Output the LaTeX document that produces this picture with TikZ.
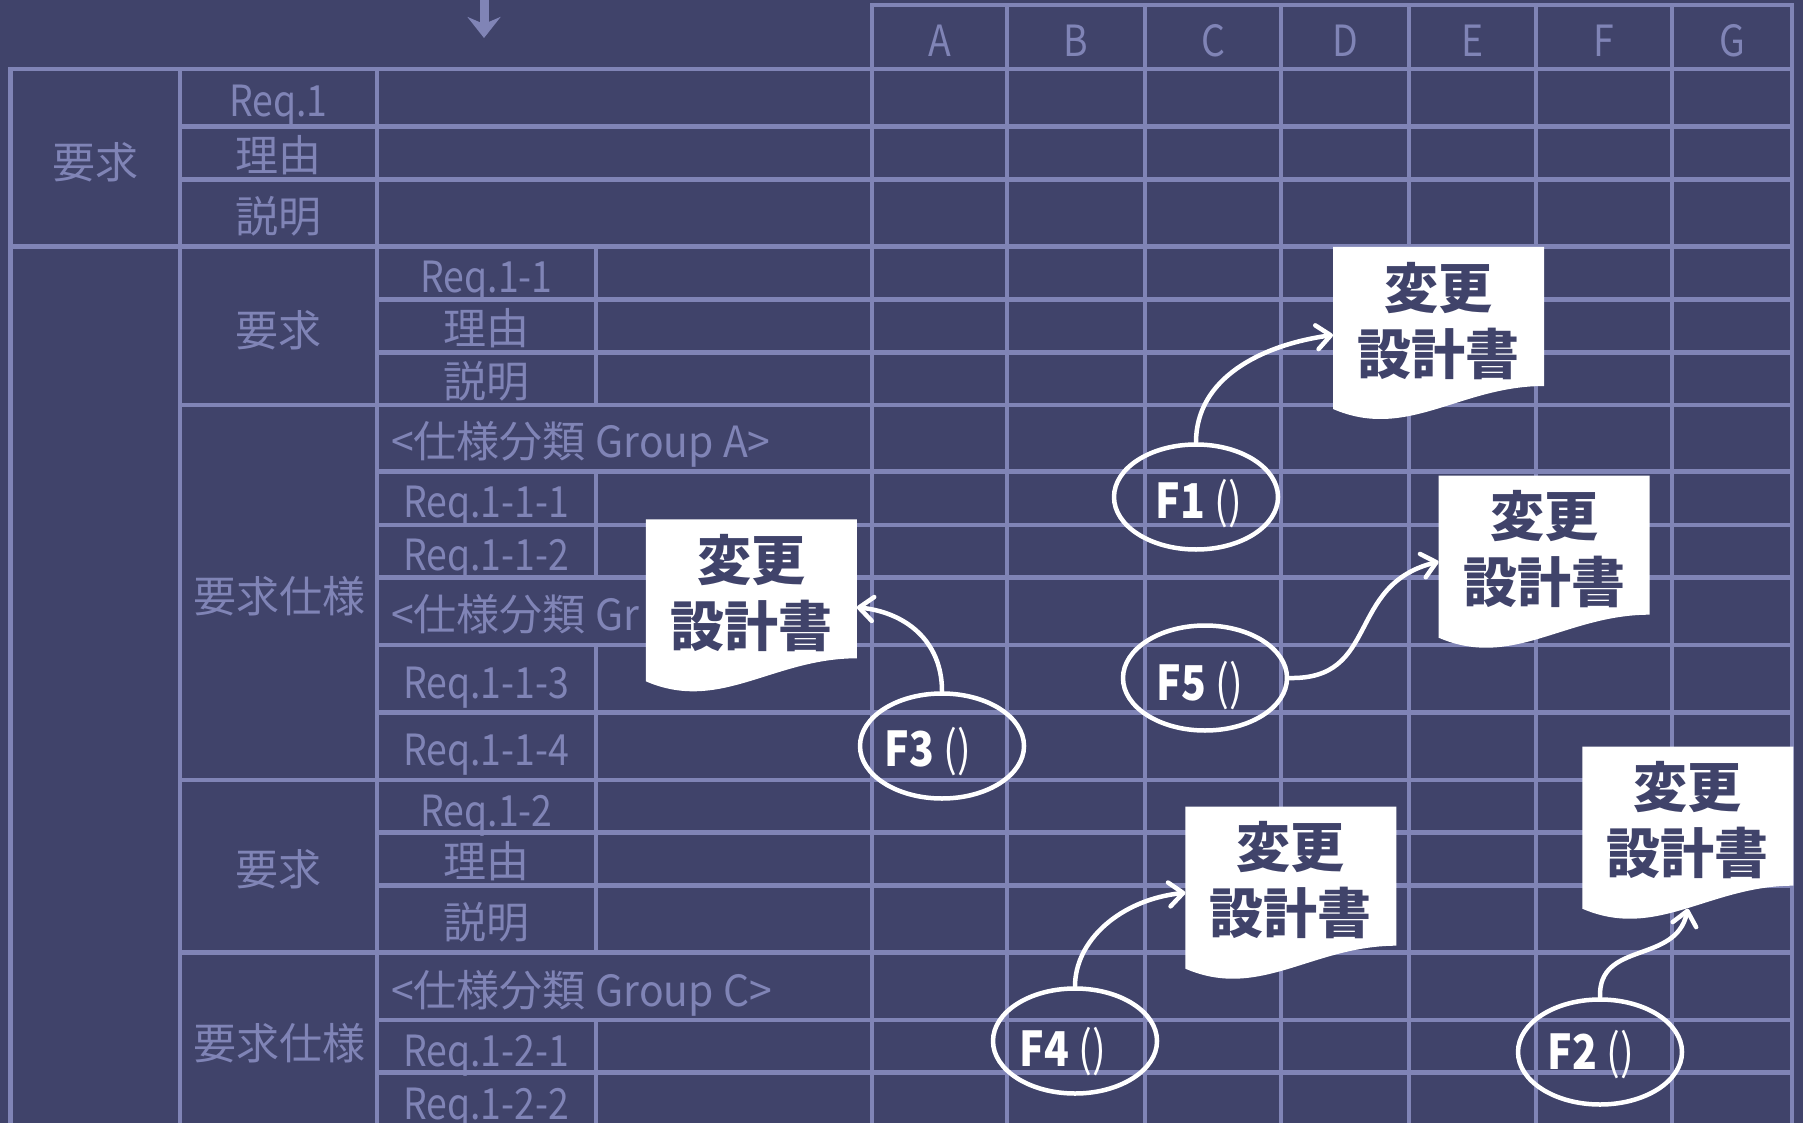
\documentclass[tikz,border=0pt]{standalone}
\usepackage{fontspec}
\setmainfont{Noto Sans CJK JP}
\newfontfamily\fcond[FakeStretch=0.85]{Noto Sans CJK JP}
\newfontfamily\tlat[FakeStretch=0.87]{Noto Sans CJK JP}
\newfontfamily\glat[FakeStretch=0.95]{Noto Sans CJK JP}
\newcommand\latn[1]{{\tlat #1}}
\newcommand\glatn[1]{{\glat #1}}
\usetikzlibrary{arrows.meta,shapes.geometric}
\definecolor{bgc}{RGB}{64,67,106}
\definecolor{linec}{RGB}{128,132,182}
\newcommand\docfill[1]{\fill[white] (#1.north west) -- (#1.north east) -- ([yshift=23pt]#1.south east) .. controls +(-84,0) and +(74,32) .. (#1.south west) -- cycle;}
\begin{document}
\begin{tikzpicture}[x=1pt,y=-1pt,
  gl/.style={draw=linec, line width=4.5pt, line cap=rect},
  tbl/.style={text=linec, font=\fontsize{43}{50}\selectfont, inner sep=0pt, anchor=base},
  docbox/.style={rectangle, minimum width=211pt, minimum height=162pt, inner sep=0pt, outer sep=0pt},
  doctxt/.style={text=bgc, font=\fontsize{54}{60}\selectfont\bfseries, inner sep=0pt, anchor=base},
  fell/.style={ellipse, draw=white, line width=4.5pt, minimum width=164pt, minimum height=105pt, inner sep=0pt},
  ftxt/.style={text=white, font=\fcond\fontsize{48}{52}\selectfont, inner sep=0pt, anchor=base},
  warr/.style={draw=white, line width=4.5pt, line cap=round, -{Straight Barb[length=14pt,width=24pt,round]}},
]
\fill[bgc] (0,0) rectangle (1803,1123);
\useasboundingbox (0,0) rectangle (1803,1123);
\begin{scope}
\clip (0,0) rectangle (1803,1123);
% horizontal lines
\draw[gl] (872,5) -- (1792,5);
\draw[gl] (10.5,69) -- (1792,69);
\foreach \y in {126.7,179.3,405,780,952.7} \draw[gl] (180,\y) -- (1792,\y);
\draw[gl] (10.5,246.7) -- (1792,246.7);
\foreach \y in {299.3,352.3,471.7,525,577.3,645,712.3,832.7,885.3,1020,1072.7} \draw[gl] (377,\y) -- (1792,\y);
% vertical lines
\foreach \x in {10.5,180,377} \draw[gl] (\x,69) -- (\x,1140);
\foreach \x in {872,1007,1145,1281,1409,1536,1672,1792} \draw[gl] (\x,5) -- (\x,1140);
\draw[gl] (596,246.7) -- (596,405);
\draw[gl] (596,471.7) -- (596,577.3);
\draw[gl] (596,645) -- (596,952.7);
\draw[gl] (596,1020) -- (596,1140);
% top arrow
\coordinate (ta) at (484,-10);
\coordinate (tb) at (484,38);
\draw[draw=linec, fill=linec, line width=9pt, -{Stealth[length=21pt,width=33pt,inset=7pt]}] (ta) -- (tb);
% headers
\node[tbl] (hA) at (939.5,57) {\latn{A}};
\node[tbl] (hB) at (1076,57) {\latn{B}};
\node[tbl] (hC) at (1213,57) {\latn{C}};
\node[tbl] (hD) at (1345,57) {\latn{D}};
\node[tbl] (hE) at (1472.5,57) {\latn{E}};
\node[tbl] (hF) at (1604,57) {\latn{F}};
\node[tbl] (hG) at (1732,57) {\latn{G}};
% table texts
\node[tbl] (t1) at (95,179) {要求};
\node[tbl] (t2) at (278.5,117) {\latn{Req.1}};
\node[tbl] (t3) at (278.5,172) {理由};
\node[tbl] (t4) at (278.5,233) {説明};
\node[tbl] (t5) at (278.5,346) {要求};
\node[tbl] (t6) at (279,612) {要求仕様};
\node[tbl] (t7) at (278.5,885) {要求};
\node[tbl] (t8) at (279,1059) {要求仕様};
\node[tbl] (t9) at (486.5,292) {\latn{Req.1-1}};
\node[tbl] (t10) at (486.5,344) {理由};
\node[tbl] (t11) at (486.5,397) {説明};
\node[tbl, anchor=base west] (t12) at (391,457) {\glatn{<}仕様分類 \glatn{Group A>}};
\node[tbl] (t13) at (486,517) {\latn{Req.1-1-1}};
\node[tbl] (t14) at (486,570) {\latn{Req.1-1-2}};
\node[tbl, anchor=base west] (t15) at (391,630) {\glatn{<}仕様分類 \glatn{Gr}};
\node[tbl] (t16) at (486,698) {\latn{Req.1-1-3}};
\node[tbl] (t17) at (486,765) {\latn{Req.1-1-4}};
\node[tbl] (t18) at (486.5,826) {\latn{Req.1-2}};
\node[tbl] (t19) at (486.5,877) {理由};
\node[tbl] (t20) at (486.5,938) {説明};
\node[tbl, anchor=base west] (t21) at (391,1006) {\glatn{<}仕様分類 \glatn{Group C>}};
\node[tbl] (t22) at (486,1066) {\latn{Req.1-2-1}};
\node[tbl] (t23) at (486,1119) {\latn{Req.1-2-2}};
% documents
\node[docbox] (d1) at (1438.5,328) {};
\node[docbox] (d2) at (1544.1,556.7) {};
\node[docbox] (d3) at (751.3,600.3) {};
\node[docbox] (d4) at (1290.9,887.7) {};
\node[docbox] (d5) at (1687.8,827.7) {};
\docfill{d1}\docfill{d2}\docfill{d3}\docfill{d4}\docfill{d5}
\foreach \d in {d1,d2,d3,d4,d5}{
  \node[doctxt] (\d a) at ([yshift=-61pt]\d.north) {変更};
  \node[doctxt] (\d b) at ([yshift=-127pt]\d.north) {設計書};
}
% ellipses
\node[fell] (f1) at (1196,497) {};
\node[fell] (f5) at (1205,678) {};
\node[fell] (f3) at (942,746) {};
\node[fell] (f4) at (1075,1041) {};
\node[fell] (f2) at (1600,1052) {};
\node[ftxt] (f1t) at ([xshift=3pt,yshift=-21pt]f1.center) {\textbf{F1} ()};
\node[ftxt] (f5t) at ([xshift=-5pt,yshift=-22pt]f5.center) {\textbf{F5} ()};
\node[ftxt] (f3t) at ([xshift=-14pt,yshift=-20pt]f3.center) {\textbf{F3} ()};
\node[ftxt] (f4t) at ([xshift=-12pt,yshift=-25pt]f4.center) {\textbf{F4} ()};
\node[ftxt] (f2t) at ([xshift=-9pt,yshift=-17pt]f2.center) {\textbf{F2} ()};
% arrows
\draw[warr] (f1.north) .. controls +(0,-64) and +(-72,10) .. ([yshift=-7pt]d1.west);
\draw[warr] (f5.east) .. controls +(91,2) and +(-93,23) .. ([yshift=-5pt]d2.west);
\draw[warr] (f3.north) .. controls +(0,-51) and +(48,5) .. ([yshift=-7pt]d3.east);
\draw[warr] (f4.north) .. controls +(0,-46) and +(-65,7) .. ([yshift=-5pt]d4.west);
\draw[warr] (f2.north) .. controls +(-2,-57) and +(-12,56) .. (d5.south);
\end{scope}
\end{tikzpicture}
\end{document}
